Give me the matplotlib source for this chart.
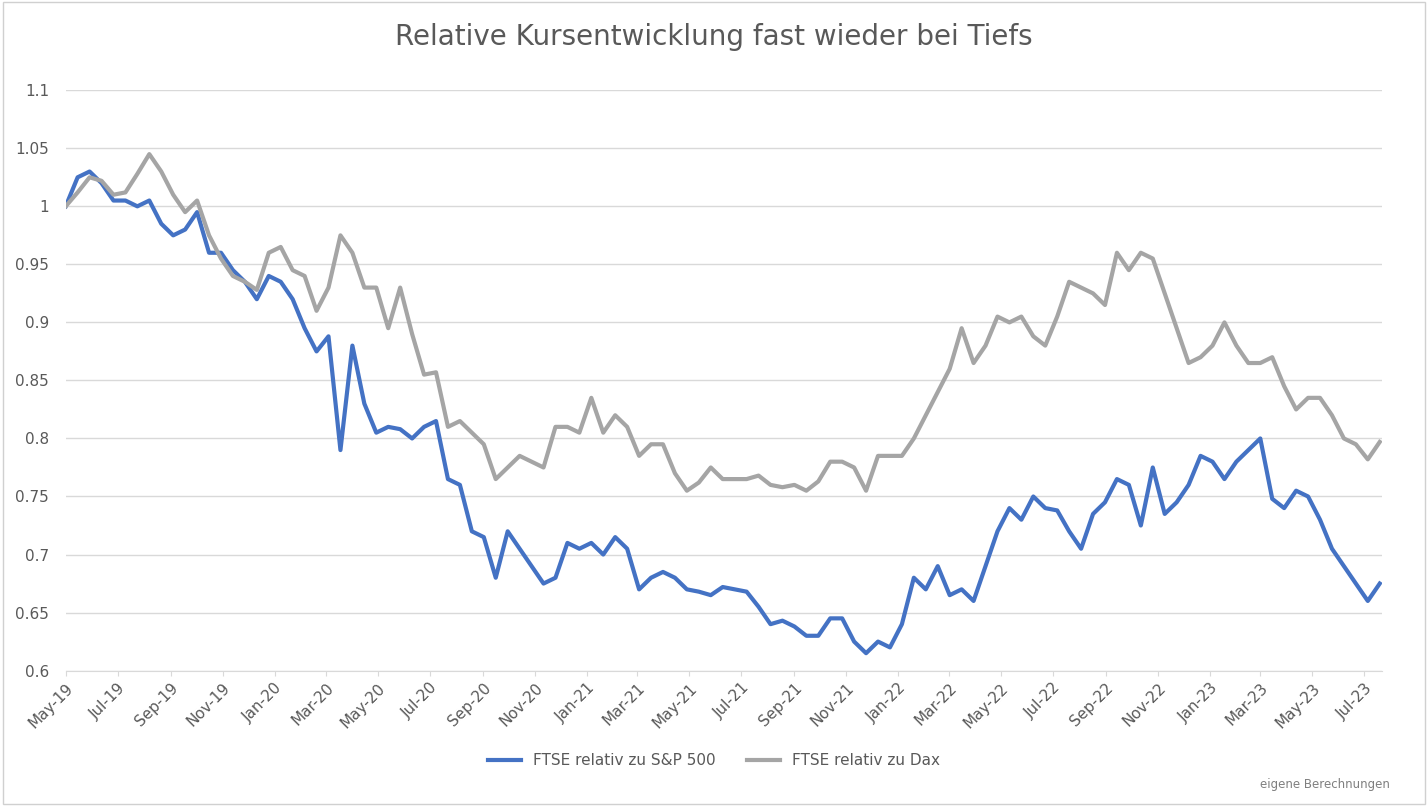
"""Plot the relative price development of the FTSE against S&P 500 and Dax.

Both series are normalised to 1 at the start (May 2019) and sampled every
two weeks.
"""

import pandas as pd
import matplotlib.pyplot as plt
import matplotlib.dates as mdates
from matplotlib.ticker import FuncFormatter


def plot(dates, sp500, dax):
    """Create plot."""
    fig = plt.figure(figsize=(14.28, 8.06), dpi=100)
    fig.patches.append(plt.Rectangle((0.002, 0.002), 0.996, 0.996, transform=fig.transFigure,
                                     fill=False, edgecolor="#d0d0d0", linewidth=1))
    ax = fig.add_axes([0.046, 0.168, 0.922, 0.72])
    ax.plot(dates, sp500, color="#4472c4", linewidth=3, label="FTSE relativ zu S&P 500")
    ax.plot(dates, dax, color="#a5a5a5", linewidth=3, label="FTSE relativ zu Dax")
    ax.set_ylim(0.6, 1.1)
    ax.set_yticks([0.6, 0.65, 0.7, 0.75, 0.8, 0.85, 0.9, 0.95, 1, 1.05, 1.1])
    ax.yaxis.set_major_formatter(FuncFormatter(lambda v, _: f"{v:g}"))
    ax.set_xlim(pd.Timestamp("2019-05-01"), dates[-1] + pd.Timedelta(days=3))
    ax.xaxis.set_major_locator(mdates.MonthLocator(bymonth=[1, 3, 5, 7, 9, 11]))
    ax.xaxis.set_major_formatter(mdates.DateFormatter("%b-%y"))
    ax.grid(axis="y", color="#d9d9d9", linewidth=1)
    ax.set_axisbelow(True)
    for side in ("top", "right", "left"):
        ax.spines[side].set_visible(False)
    ax.spines["bottom"].set_color("#d9d9d9")
    ax.tick_params(axis="y", length=0, labelsize=11, labelcolor="#595959", pad=12)
    ax.tick_params(axis="x", color="#d9d9d9", labelsize=11, labelcolor="#595959")
    plt.setp(ax.get_xticklabels(), rotation=45, ha="right", rotation_mode="anchor")
    fig.suptitle("Relative Kursentwicklung fast wieder bei Tiefs", fontsize=20,
                 color="#595959", y=0.972)
    fig.legend(loc="lower center", ncol=2, frameon=False, fontsize=11,
               bbox_to_anchor=(0.5, 0.03), labelcolor="#595959", handlelength=2.2)
    fig.text(0.973, 0.022, "eigene Berechnungen", fontsize=8.5, color="#7f7f7f", ha="right")
    fig.savefig("out.png")


def main():
    """Run example."""
    sp500 = [
        1.0, 1.025, 1.03, 1.02, 1.005, 1.005, 1.0, 1.005, 0.985, 0.975, 0.98, 0.995, 0.96,
        0.96, 0.945, 0.935, 0.92, 0.94, 0.935, 0.92, 0.895, 0.875, 0.888, 0.79, 0.88,
        0.83, 0.805, 0.81, 0.808, 0.8, 0.81, 0.815, 0.765, 0.76, 0.72, 0.715, 0.68,
        0.72, 0.705, 0.69, 0.675, 0.68, 0.71, 0.705, 0.71, 0.7, 0.715, 0.705, 0.67,
        0.68, 0.685, 0.68, 0.67, 0.668, 0.665, 0.672, 0.67, 0.668, 0.655, 0.64, 0.643,
        0.638, 0.63, 0.63, 0.645, 0.645, 0.625, 0.615, 0.625, 0.62, 0.64, 0.68, 0.67,
        0.69, 0.665, 0.67, 0.66, 0.69, 0.72, 0.74, 0.73, 0.75, 0.74, 0.738, 0.72,
        0.705, 0.735, 0.745, 0.765, 0.76, 0.725, 0.775, 0.735, 0.745, 0.76, 0.785,
        0.78, 0.765, 0.78, 0.79, 0.8, 0.748, 0.74, 0.755, 0.75, 0.73, 0.705, 0.69,
        0.675, 0.66, 0.675,
    ]
    dax = [
        1.0, 1.012, 1.025, 1.022, 1.01, 1.012, 1.028, 1.045, 1.03, 1.01, 0.995, 1.005,
        0.975, 0.955, 0.94, 0.935, 0.928, 0.96, 0.965, 0.945, 0.94, 0.91, 0.93, 0.975,
        0.96, 0.93, 0.93, 0.895, 0.93, 0.89, 0.855, 0.857, 0.81, 0.815, 0.805, 0.795,
        0.765, 0.775, 0.785, 0.78, 0.775, 0.81, 0.81, 0.805, 0.835, 0.805, 0.82, 0.81,
        0.785, 0.795, 0.795, 0.77, 0.755, 0.762, 0.775, 0.765, 0.765, 0.765, 0.768,
        0.76, 0.758, 0.76, 0.755, 0.763, 0.78, 0.78, 0.775, 0.755, 0.785, 0.785, 0.785,
        0.8, 0.82, 0.84, 0.86, 0.895, 0.865, 0.88, 0.905, 0.9, 0.905, 0.888, 0.88,
        0.905, 0.935, 0.93, 0.925, 0.915, 0.96, 0.945, 0.96, 0.955, 0.925, 0.895,
        0.865, 0.87, 0.88, 0.9, 0.88, 0.865, 0.865, 0.87, 0.845, 0.825, 0.835, 0.835,
        0.82, 0.8, 0.795, 0.782, 0.797,
    ]
    dates = pd.date_range("2019-05-01", periods=len(sp500), freq="14D")  # biweekly

    plot(dates, sp500, dax)


if __name__ == "__main__":
    main()
